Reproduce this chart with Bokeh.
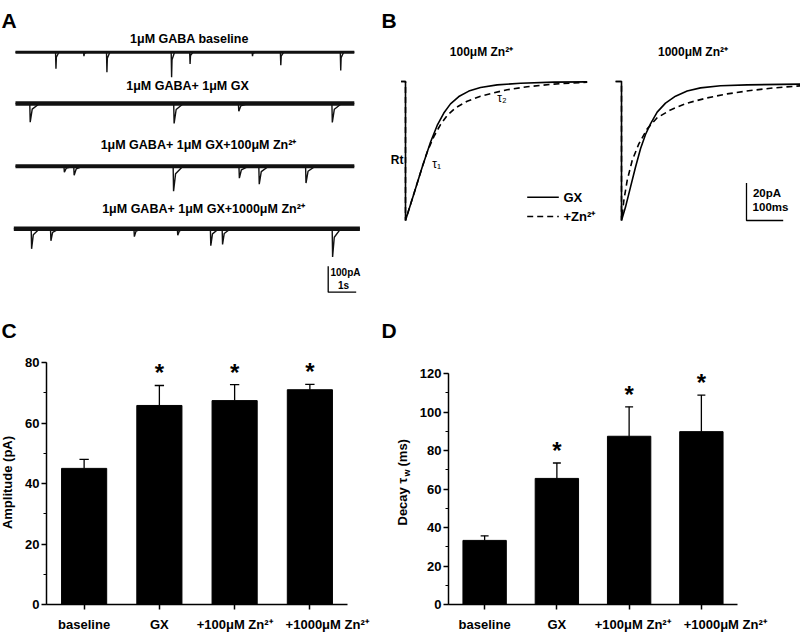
import math
from bokeh.plotting import figure
from bokeh.models import Range1d, Label, FixedTicker, SingleIntervalTicker
from bokeh.layouts import row, column
from bokeh.embed import file_html
from bokeh.resources import INLINE
from bokeh.core.properties import value

FONT = "Liberation Sans"

# ---------------- data ----------------
# Panel A: spontaneous events (time in s, amplitude in pA)
a_titles = ["1μM GABA baseline", "1μM GABA+ 1μM GX",
            "1μM GABA+ 1μM GX+100μM Zn²⁺", "1μM GABA+ 1μM GX+1000μM Zn²⁺"]
a_t_start = [0.0, 0.0, 0.0, -0.06]
a_t_end = [12.1, 12.1, 12.1, 12.3]
a_ev_t_1 = [1.43, 2.43, 3.25, 5.56, 6.22, 8.45, 9.46, 11.6]
a_ev_a_1 = [64, 15, 77, 96, 45, 15, 50, 70]
a_ev_t_2 = [0.51, 5.65, 7.96, 11.3]
a_ev_a_2 = [72, 77, 30, 73]
a_ev_t_3 = [1.73, 2.08, 5.63, 7.98, 8.69, 10.36]
a_ev_a_3 = [23, 35, 96, 46, 69, 65]
a_ev_t_4 = [0.56, 1.25, 4.23, 5.78, 6.96, 7.38, 11.31]
a_ev_a_4 = [77, 46, 30, 25, 65, 60, 108]
a_decay = [0.12, 0.35, 0.35, 0.3]   # s, visual decay of events
a_scale_pA = 100
a_scale_s = 1

# Panel B: averaged, normalised events (time in ms, current in pA)
b1_gx_t = [-12, 0, 0, 22.7, 45.4, 68.1, 86.3, 104.4, 122.6, 145.3, 172.6, 204.4, 249.8, 313.4, 404.2, 495]
b1_gx_i = [0, 0, -73.9, -59.8, -45.6, -32.3, -23.4, -16.8, -11.9, -8.0, -5.1, -3.2, -1.8, -0.9, -0.35, -0.2]
b1_zn_t = [-12, 0, 0, 22.7, 45.4, 59, 77.2, 95.4, 113.5, 136.2, 168, 204.4, 240.7, 277, 331.5, 404.2, 495]
b1_zn_i = [0, 0, -73.9, -59.8, -45.6, -37.6, -29.3, -22.9, -18.1, -14.0, -10.5, -7.8, -6.0, -4.4, -2.8, -1.4, -0.35]
b2_gx_t = [-16, 0, 0, 10.9, 24.5, 38.1, 51.8, 65.4, 79, 97.2, 119.9, 147.1, 178.9, 215.3, 269.8, 342.4, 487.7]
b2_gx_i = [0, 0, -73.9, -66.8, -56.2, -45.6, -35.8, -28.2, -22.5, -16.3, -11.5, -7.8, -5.1, -3.4, -2.3, -1.8, -1.4]
b2_zn_t = [-16, 0, 0, 6.4, 15.4, 29.1, 47.2, 70, 97.2, 133.5, 178.9, 233.4, 287.9, 351.5, 415, 487.7]
b2_zn_i = [0, 0, -73.9, -63.3, -52.7, -42.0, -33.2, -25.2, -19.3, -15.1, -11.5, -8.7, -6.6, -4.8, -3.4, -2.3]
b_titles = ["100μM Zn²⁺", "1000μM Zn²⁺"]
b_scale_pA = 20
b_scale_ms = 100

# Panels C, D: bar charts
categories = ["baseline", "GX", "+100μM Zn²⁺", "+1000μM Zn²⁺"]
amp_mean = [45.0, 65.8, 67.4, 71.0]
amp_sem = [3.0, 6.6, 5.3, 1.8]
amp_sig = [False, True, True, True]
decay_mean = [33.3, 65.5, 87.4, 89.8]
decay_sem = [2.4, 8.0, 15.3, 19.0]
decay_sig = [False, True, True, True]

# ---------------- layout constants (page pixels) ----------------
LEFT_W, RIGHT_W = 378, 422
TOP_H, BOT_H = 310, 324
PAGE_X0, PAGE_Y0 = 0, 0
SPLIT_X = PAGE_X0 + LEFT_W      # 378
SPLIT_Y = PAGE_Y0 + TOP_H       # 310
PAGE_BOTTOM = SPLIT_Y + BOT_H   # 634


def lab(p, x, y, text, size="12px", bold=True, align="left", baseline="middle", angle=0.0):
    p.add_layout(Label(x=x, y=y, x_units="screen", y_units="screen", text=text,
                       text_font=FONT, text_font_size=size,
                       text_font_style="bold" if bold else "normal",
                       text_align=align, text_baseline=baseline, angle=angle,
                       text_color="black"))


def bare(p):
    p.xaxis.visible = False
    p.yaxis.visible = False
    p.xgrid.visible = False
    p.ygrid.visible = False
    p.outline_line_color = None


def strip(width, height):
    p = figure(width=width, height=height, output_backend="svg", toolbar_location=None,
               x_range=Range1d(0, 1), y_range=Range1d(0, 1), min_border=0, frame_align=False)
    bare(p)
    return p


# ---------------- Panel A ----------------
A_PX_S, A_PX_PA, A_T0X = 28.0, 0.26, 15.0
ax0 = -(A_T0X - PAGE_X0) / A_PX_S
pA = figure(width=LEFT_W, height=TOP_H, output_backend="svg", toolbar_location=None,
            x_range=Range1d(ax0, ax0 + LEFT_W / A_PX_S),
            y_range=Range1d(-TOP_H / A_PX_PA, 0), min_border=0, frame_align=False)
bare(pA)
trace_page_y = [51.7, 103.0, 165.7, 228.3]
offsets = [-(py - PAGE_Y0) / A_PX_PA for py in trace_page_y]
band_w = [3.0, 4.5, 4.0, 4.5]
ev_t = [a_ev_t_1, a_ev_t_2, a_ev_t_3, a_ev_t_4]
ev_a = [a_ev_a_1, a_ev_a_2, a_ev_a_3, a_ev_a_4]
for k in range(4):
    off = offsets[k]
    xs, ys = [a_t_start[k]], [off]
    d = a_decay[k]
    for t, a in sorted(zip(ev_t[k], ev_a[k])):
        xs += [t, t + 0.015, t + 0.25 * d, t + d]
        ys += [off, off - a, off - 0.3 * a, off]
    xs.append(a_t_end[k]); ys.append(off)
    pA.line(xs, ys, line_color="#111111", line_width=1.4)
    pA.line([a_t_start[k], a_t_end[k]], [off, off], line_color="#111111", line_width=band_w[k])
# scale bar A
sb_t0 = (327.7 - A_T0X) / A_PX_S
sb_y0 = -(291.7 - PAGE_Y0) / A_PX_PA
pA.line([sb_t0, sb_t0, sb_t0 + a_scale_s], [sb_y0 + a_scale_pA, sb_y0, sb_y0],
        line_color="black", line_width=1.3)

def la(px, py):
    return px - PAGE_X0, SPLIT_Y - py

lab(pA, *la(1, 20), "A", size="21px", baseline="alphabetic")
for txt, (cx, cy) in zip(a_titles, [(189, 38.3), (187, 85), (198, 144), (203, 208)]):
    lab(pA, *la(cx, cy), txt, size="12.5px", align="center")
lab(pA, *la(330, 271.7), "100pA", size="10px")
lab(pA, *la(343, 285), "1s", size="10px", align="center")

# ---------------- Panel B ----------------
B_PX_MS, B_PX_PA = 0.367, 1.88
B1_X, B2_X, B_BASE_Y = 405.0, 621.0, 81.0
pB = figure(width=RIGHT_W, height=TOP_H, output_backend="svg", toolbar_location=None,
            x_range=Range1d((SPLIT_X - B1_X) / B_PX_MS, (SPLIT_X + RIGHT_W - B1_X) / B_PX_MS),
            y_range=Range1d(-(SPLIT_Y - B_BASE_Y) / B_PX_PA, (B_BASE_Y - PAGE_Y0) / B_PX_PA),
            min_border=0, frame_align=False)
pB.extra_x_ranges = {"b2": Range1d((SPLIT_X - B2_X) / B_PX_MS, (SPLIT_X + RIGHT_W - B2_X) / B_PX_MS)}
bare(pB)
pB.line(b1_gx_t, b1_gx_i, line_color="black", line_width=1.6)
pB.line(b1_zn_t, b1_zn_i, line_color="black", line_width=1.6, line_dash="6 4")
pB.line(b2_gx_t, b2_gx_i, line_color="black", line_width=1.6, x_range_name="b2")
pB.line(b2_zn_t, b2_zn_i, line_color="black", line_width=1.6, line_dash="6 4", x_range_name="b2")
# legend samples
lx0, lx1 = (526.7 - B1_X) / B_PX_MS, (558.3 - B1_X) / B_PX_MS
ly_gx, ly_zn = -(196.7 - B_BASE_Y) / B_PX_PA, -(216 - B_BASE_Y) / B_PX_PA
pB.line([lx0, lx1], [ly_gx, ly_gx], line_color="black", line_width=1.6)
pB.line([lx0, lx1], [ly_zn, ly_zn], line_color="black", line_width=1.6, line_dash="6 4")
# scale bar B
sbt = (746 - B2_X) / B_PX_MS
sbi = -(220 - B_BASE_Y) / B_PX_PA
pB.line([sbt, sbt, sbt + b_scale_ms], [sbi + b_scale_pA, sbi, sbi], line_color="black",
        line_width=1.3, x_range_name="b2")

def lb(px, py):
    return px - SPLIT_X, SPLIT_Y - py

lab(pB, *lb(381, 20), "B", size="21px", baseline="alphabetic")
lab(pB, *lb(481, 51.7), b_titles[0], size="12px", align="center")
lab(pB, *lb(692.5, 51.7), b_titles[1], size="12px", align="center")
lab(pB, *lb(403, 159.3), "Rt", size="12px", align="right")
lab(pB, *lb(431.7, 163), "τ₁", size="12px", bold=False)
lab(pB, *lb(496.7, 97.3), "τ₂", size="12px", bold=False)
lab(pB, *lb(563, 196.7), "GX", size="13px")
lab(pB, *lb(563, 216), "+Zn²⁺", size="13px")
lab(pB, *lb(766.5, 192.7), "20pA", size="11.5px", align="center")
lab(pB, *lb(770, 206.7), "100ms", size="11.5px", align="center")


# ---------------- Panels C and D ----------------
BAR_BORDER_BOTTOM = 30


def bar_panel(width, mb_left, mb_right, mb_top, y_max, means, sems, sig, cap_half, label_shift):
    p = figure(width=width, height=BOT_H, output_backend="svg", toolbar_location=None,
               x_range=Range1d(0.5, 4.5), y_range=Range1d(0, y_max),
               min_border_left=mb_left, min_border_right=mb_right,
               min_border_top=mb_top, min_border_bottom=BAR_BORDER_BOTTOM, frame_align=False)
    p.xgrid.visible = False
    p.ygrid.visible = False
    p.outline_line_color = None
    xs = [1, 2, 3, 4]
    p.vbar(x=xs, top=means, width=0.6, bottom=0, fill_color="black", line_color="black")
    tops = [m + s for m, s in zip(means, sems)]
    p.segment(x0=xs, y0=means, x1=xs, y1=tops, line_color="black", line_width=1.3)
    p.segment(x0=[x - cap_half for x in xs], y0=tops, x1=[x + cap_half for x in xs], y1=tops,
              line_color="black", line_width=1.3)
    sx = [x for x, s in zip(xs, sig) if s]
    sy = [t for t, s in zip(tops, sig) if s]
    p.text(x=sx, y=sy, text=["*"] * len(sx), text_font=value(FONT),
           text_font_size=value("24px"), text_font_style="bold", text_align="center",
           text_baseline="alphabetic", y_offset=-12.5, text_color="black")
    for ax in (p.xaxis[0], p.yaxis[0]):
        ax.axis_line_width = 1.5
        ax.major_tick_line_width = 1.5
        ax.minor_tick_line_width = 1.2
        ax.major_tick_in = 0
        ax.major_tick_out = 5
        ax.minor_tick_in = 0
        ax.minor_tick_out = 3
        ax.major_label_text_font = FONT
        ax.major_label_text_font_style = "bold"
        ax.major_label_text_font_size = "13px"
        ax.major_label_text_color = "black"
        ax.major_label_standoff = 2
    # labels sit at (possibly shifted) major ticks; tick marks are drawn at the bars
    label_pos = [x + s for x, s in zip(xs, label_shift)]
    xa = p.xaxis[0]
    xa.ticker = FixedTicker(ticks=label_pos, minor_ticks=xs)
    xa.major_tick_out = 0
    xa.major_tick_line_color = None
    xa.minor_tick_out = 5
    xa.minor_tick_line_width = 1.5
    xa.major_label_standoff = 7
    xa.major_label_overrides = {lp: c for lp, c in zip(label_pos, categories)}
    p.yaxis[0].ticker = SingleIntervalTicker(interval=20, num_minor_ticks=2)
    return p


# bottom row: [label strip C | panel C | label strip D | panel D]
C_STRIP_W, D_STRIP_W = 22, 34
pCl = strip(C_STRIP_W, BOT_H)
pC = bar_panel(LEFT_W - C_STRIP_W, 23, 31, 52, 80, amp_mean, amp_sem, amp_sig, 0.062,
               [0, 0, 0, 0.23])
pDl = strip(D_STRIP_W, BOT_H)
pD = bar_panel(RIGHT_W - D_STRIP_W, 36, 63, 63, 120, decay_mean, decay_sem, decay_sig, 0.055,
               [0, 0, 0.05, 0.33])

# strip labels: x from strip left, y from page bottom of row
lab(pCl, 1 - PAGE_X0, PAGE_BOTTOM - 330, "C", size="21px", baseline="alphabetic")
lab(pCl, 7 - PAGE_X0, PAGE_BOTTOM - 482, "Amplitude (pA)", size="13px", align="center",
    angle=math.pi / 2)
lab(pDl, 381 - SPLIT_X, PAGE_BOTTOM - 330, "D", size="21px", baseline="alphabetic")
y_start = PAGE_BOTTOM - 525
lab(pDl, 402 - SPLIT_X, y_start, "Decay τ", size="13px", angle=math.pi / 2)
lab(pDl, 406 - SPLIT_X, y_start + 49, "w", size="9px", angle=math.pi / 2)
lab(pDl, 402 - SPLIT_X, y_start + 59, "(ms)", size="13px", angle=math.pi / 2)

layout = column(row(pA, pB), row(pCl, pC, pDl, pD))
open("out.html", "w").write(file_html(layout, INLINE))
